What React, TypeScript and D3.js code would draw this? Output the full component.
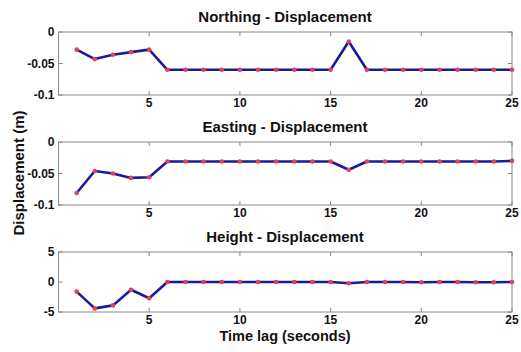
import React from 'react';
import * as d3 from 'd3';

const lags = d3.range(1, 26);
const northing = [-0.028, -0.043, -0.036, -0.032, -0.028, -0.06, -0.06, -0.06, -0.06, -0.06, -0.06, -0.06, -0.06, -0.06, -0.06, -0.015, -0.06, -0.06, -0.06, -0.06, -0.06, -0.06, -0.06, -0.06, -0.06];
const easting = [-0.081, -0.046, -0.05, -0.057, -0.056, -0.031, -0.031, -0.031, -0.031, -0.031, -0.031, -0.031, -0.031, -0.031, -0.031, -0.044, -0.031, -0.031, -0.031, -0.031, -0.031, -0.031, -0.031, -0.031, -0.03];
const height = [-1.6, -4.4, -3.9, -1.3, -2.7, 0, 0, 0, 0, 0, 0, 0, 0, 0, 0, -0.2, 0, 0, 0, -0.05, 0, 0, -0.05, -0.05, 0];
const xTicks = [5, 10, 15, 20, 25];

const panels = [
  { title: 'Northing - Displacement', values: northing, domain: [-0.1, 0], ticks: [-0.1, -0.05, 0], top: 32, h: 63 },
  { title: 'Easting - Displacement', values: easting, domain: [-0.1, 0], ticks: [-0.1, -0.05, 0], top: 142, h: 63 },
  { title: 'Height - Displacement', values: height, domain: [-5, 5], ticks: [-5, 0, 5], top: 252, h: 60 },
];

const W = 521, H = 352;
const left = 58.5, right = 512;
const font = '"Liberation Sans", Arial, sans-serif';

const Panel = ({ p }: { p: typeof panels[number] }) => {
  const x = d3.scaleLinear().domain([0, 25]).range([left, right]);
  const y = d3.scaleLinear().domain(p.domain).range([p.top + p.h, p.top]);
  const line = d3.line<number>().x((_, i) => x(lags[i])).y(d => y(d));
  const bottom = p.top + p.h;
  return (
    <g>
      <text x={285} y={p.top - 10} textAnchor="middle" fontFamily={font} fontSize={15} fontWeight="bold" fill="#111">{p.title}</text>
      <rect x={left} y={p.top} width={right - left} height={p.h} fill="#fff" stroke="#888" strokeWidth={1} />
      {xTicks.map(t => (
        <g key={t}>
          <line x1={x(t)} x2={x(t)} y1={bottom} y2={bottom - 4} stroke="#888" />
          <line x1={x(t)} x2={x(t)} y1={p.top} y2={p.top + 4} stroke="#888" />
          <text x={x(t)} y={bottom + 12} textAnchor="middle" fontFamily={font} fontSize={12} fontWeight="bold" fill="#111">{t}</text>
        </g>
      ))}
      {p.ticks.map(t => (
        <g key={t}>
          <line x1={left} x2={left + 4} y1={y(t)} y2={y(t)} stroke="#888" />
          <line x1={right} x2={right - 4} y1={y(t)} y2={y(t)} stroke="#888" />
          <text x={left - 4} y={y(t) + 4} textAnchor="end" fontFamily={font} fontSize={12} fontWeight="bold" fill="#111">{t}</text>
        </g>
      ))}
      <path d={line(p.values) || ''} fill="none" stroke="#1a1a9e" strokeWidth={2.6} strokeLinejoin="round" />
      {p.values.map((v, i) => (
        <circle key={i} cx={x(lags[i])} cy={y(v)} r={2.3} fill="#e8404f" />
      ))}
    </g>
  );
};

export default function App() {
  return (
    <svg width={W} height={H} style={{ position: 'absolute', left: 0, top: 0, background: '#fff' }}>
      {panels.map(p => <Panel key={p.title} p={p} />)}
      <text x={285} y={341} textAnchor="middle" fontFamily={font} fontSize={14.5} fontWeight="bold" fill="#111">Time lag (seconds)</text>
      <text transform="translate(24,173) rotate(-90)" textAnchor="middle" fontFamily={font} fontSize={15} fontWeight="bold" fill="#111">Displacement (m)</text>
    </svg>
  );
}
